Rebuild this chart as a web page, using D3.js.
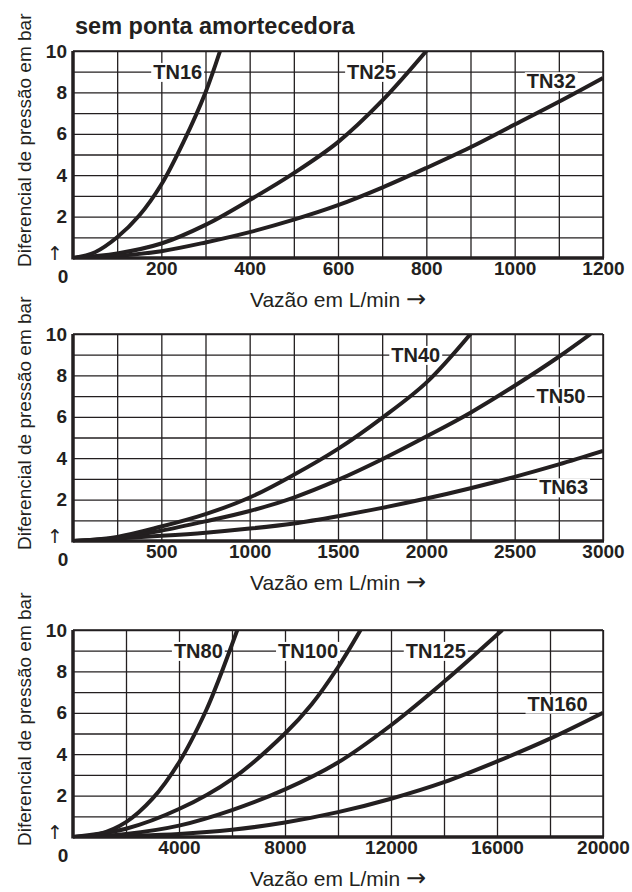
<!DOCTYPE html>
<html>
<head>
<meta charset="utf-8">
<script src="https://cdn.jsdelivr.net/npm/d3@7"></script>
<style>
	body { margin: 0; background: #fff; }
	text { fill: #231f20; }
</style>
</head>
<body>
<div id="chart"></div>
<script>

// ---- data (x in L/min, y in bar) ----

// panel 1
var xTicks1 = [200, 400, 600, 800, 1000, 1200];
var names1 = ["TN16", "TN25", "TN32"];
var tn16 = [[0,0],[50,0.28],[100,1.0],[150,2.05],[200,3.55],[250,5.6],[300,8.0],[333,10]];
var tn25 = [[0,0],[100,0.22],[200,0.7],[300,1.6],[400,2.8],[500,4.1],[600,5.6],[700,7.6],[800,10]];
var tn32 = [[0,0],[100,0.1],[200,0.33],[300,0.75],[400,1.25],[500,1.85],[600,2.55],[700,3.4],[800,4.35],[900,5.35],[1000,6.45],[1100,7.55],[1200,8.7]];
var labelX1 = [237, 676, 1083];
var labelY1 = [9, 9, 8.55];

// panel 2
var xTicks2 = [500, 1000, 1500, 2000, 2500, 3000];
var names2 = ["TN40", "TN50", "TN63"];
var tn40 = [[0,0],[250,0.2],[500,0.7],[750,1.3],[1000,2.1],[1250,3.2],[1500,4.45],[1750,5.95],[2000,7.65],[2250,10]];
var tn50 = [[0,0],[250,0.15],[500,0.5],[750,0.95],[1000,1.45],[1250,2.1],[1500,2.95],[1750,3.95],[2000,5.05],[2250,6.2],[2500,7.5],[2750,8.9],[2930,10]];
var tn63 = [[0,0],[500,0.25],[750,0.4],[1000,0.6],[1250,0.85],[1500,1.2],[1750,1.6],[2000,2.05],[2250,2.55],[2500,3.1],[2750,3.7],[3000,4.35]];
var labelX2 = [1940, 2762, 2777];
var labelY2 = [9, 7, 2.6];

// panel 3
var xTicks3 = [4000, 8000, 12000, 16000, 20000];
var names3 = ["TN80", "TN100", "TN125", "TN160"];
var tn80 = [[0,0],[1000,0.15],[2000,0.72],[3000,1.85],[4000,3.6],[5000,6.05],[5500,7.6],[6200,10]];
var tn100 = [[0,0],[2000,0.4],[4000,1.35],[6000,2.8],[8000,5.0],[9000,6.4],[10000,8.2],[10850,10]];
var tn125 = [[0,0],[2000,0.15],[4000,0.55],[6000,1.3],[8000,2.3],[10000,3.6],[12000,5.4],[14000,7.5],[16200,10]];
var tn160 = [[0,0],[4000,0.15],[6000,0.35],[8000,0.7],[10000,1.2],[12000,1.85],[14000,2.65],[16000,3.65],[18000,4.75],[20000,6.0]];
var labelX3 = [4730, 8870, 13690, 18285];
var labelY3 = [9, 9, 9, 6.45];

var yTicks = [2, 4, 6, 8, 10];

// ---- layout ----
var W = 632, H = 892;
var left = 73, right = 603, plotH = 207;
var ink = "#231f20";

var panels = [
	{ top: 51,  xMax: 1200,  xStep: 100,  ticks: xTicks1, series: [tn16, tn25, tn32], names: names1, lx: labelX1, ly: labelY1 },
	{ top: 334, xMax: 3000,  xStep: 250,  ticks: xTicks2, series: [tn40, tn50, tn63], names: names2, lx: labelX2, ly: labelY2 },
	{ top: 630, xMax: 20000, xStep: 2000, ticks: xTicks3, series: [tn80, tn100, tn125, tn160], names: names3, lx: labelX3, ly: labelY3 }
];

var svg = d3.select("#chart")
	.append("svg")
	.attr("width", W)
	.attr("height", H)
	.style("font-family", "'Liberation Sans', Arial, sans-serif");

// title
svg.append("text")
	.attr("x", 75)
	.attr("y", 34)
	.attr("font-weight", "bold")
	.attr("font-size", "23.5px")
	.text("sem ponta amortecedora");

panels.forEach(function(p, i) {

	var g = svg.append("g")
		.attr("transform", "translate(0," + p.top + ")");

	var x = d3.scaleLinear().domain([0, p.xMax]).range([left, right]);
	var y = d3.scaleLinear().domain([0, 10]).range([plotH, 0]);

	// grid lines
	g.append("g")
		.attr("class", "grid")
		.attr("transform", "translate(0," + plotH + ")")
		.call(d3.axisBottom(x)
			.tickValues(d3.range(p.xStep, p.xMax + 1, p.xStep))
			.tickSize(-plotH)
			.tickFormat(""));
	g.append("g")
		.attr("class", "grid")
		.attr("transform", "translate(" + left + ",0)")
		.call(d3.axisLeft(y)
			.tickValues(d3.range(1, 11))
			.tickSize(-(right - left))
			.tickFormat(""));
	g.selectAll(".grid .domain").remove();
	g.selectAll(".grid line")
		.attr("stroke", ink)
		.attr("stroke-width", 1.3);

	// frame: thin top/right, thick left/bottom
	g.append("line").attr("x1", left).attr("x2", right).attr("y1", 0).attr("y2", 0)
		.attr("stroke", ink).attr("stroke-width", 1.5);
	g.append("line").attr("x1", right).attr("x2", right).attr("y1", 0).attr("y2", plotH)
		.attr("stroke", ink).attr("stroke-width", 1.5);

	// curve labels with white boxes on the grid
	p.names.forEach(function(name, k) {
		var lg = g.append("g");
		var t = lg.append("text")
			.attr("x", x(p.lx[k]))
			.attr("y", y(p.ly[k]))
			.attr("dy", "0.36em")
			.attr("text-anchor", "middle")
			.attr("font-weight", "bold")
			.attr("font-size", "20px")
			.text(name);
		var bb = t.node().getBBox();
		lg.insert("rect", "text")
			.attr("x", bb.x - 2)
			.attr("y", bb.y + 2)
			.attr("width", bb.width + 4)
			.attr("height", bb.height - 3)
			.attr("fill", "#fff");
	});

	// curves
	g.append("clipPath")
		.attr("id", "clip" + i)
		.append("rect")
		.attr("x", left).attr("y", 0)
		.attr("width", right - left).attr("height", plotH);

	var line = d3.line()
		.x(function(d) { return x(d[0]); })
		.y(function(d) { return y(d[1]); })
		.curve(d3.curveCatmullRom.alpha(0.5));

	g.selectAll(".curve")
		.data(p.series)
		.enter()
		.append("path")
		.attr("class", "curve")
		.attr("clip-path", "url(#clip" + i + ")")
		.attr("d", line)
		.attr("fill", "none")
		.attr("stroke", ink)
		.attr("stroke-width", 4);

	// thick axes
	g.append("line").attr("x1", left).attr("x2", left).attr("y1", 0).attr("y2", plotH + 1.5)
		.attr("stroke", ink).attr("stroke-width", 3.5);
	g.append("line").attr("x1", left).attr("x2", right + 1).attr("y1", plotH).attr("y2", plotH)
		.attr("stroke", ink).attr("stroke-width", 3.5);

	// tick labels
	var xAxis = g.append("g")
		.attr("transform", "translate(0," + plotH + ")")
		.call(d3.axisBottom(x).tickValues(p.ticks).tickSize(0).tickPadding(3)
			.tickFormat(d3.format("d")));
	var yAxis = g.append("g")
		.attr("transform", "translate(" + left + ",0)")
		.call(d3.axisLeft(y).tickValues(yTicks).tickSize(0).tickPadding(6));
	[xAxis, yAxis].forEach(function(a) {
		a.select(".domain").remove();
		a.selectAll("text")
			.attr("font-family", "'Liberation Sans', Arial, sans-serif")
			.attr("font-weight", "bold")
			.attr("font-size", "19px")
			.attr("fill", ink);
	});

	// origin "0" with arrow
	g.append("text")
		.attr("x", 63)
		.attr("y", plotH + 25)
		.attr("text-anchor", "middle")
		.attr("font-weight", "bold")
		.attr("font-size", "19px")
		.text("0");
	g.append("text")
		.attr("x", 55)
		.attr("y", plotH + 2)
		.attr("text-anchor", "middle")
		.attr("font-family", "'DejaVu Sans', sans-serif")
		.attr("font-size", "19px")
		.attr("fill", "#333")
		.text("\u2191");

	// axis titles
	var xt = g.append("text")
		.attr("x", (left + right) / 2)
		.attr("y", plotH + 49)
		.attr("text-anchor", "middle")
		.attr("font-size", "21px")
		.attr("fill", "#333");
	xt.append("tspan").text("Vaz\u00e3o em L/min ");
	xt.append("tspan")
		.attr("font-family", "'DejaVu Sans', sans-serif")
		.attr("font-size", "24px")
		.text("\u2192");

	g.append("text")
		.attr("transform", "translate(31," + (plotH + 9) + ") rotate(-90)")
		.attr("text-anchor", "start")
		.attr("font-size", "19px")
		.attr("fill", "#333")
		.text("Diferencial de press\u00e3o em bar");
});

</script>
</body>
</html>
